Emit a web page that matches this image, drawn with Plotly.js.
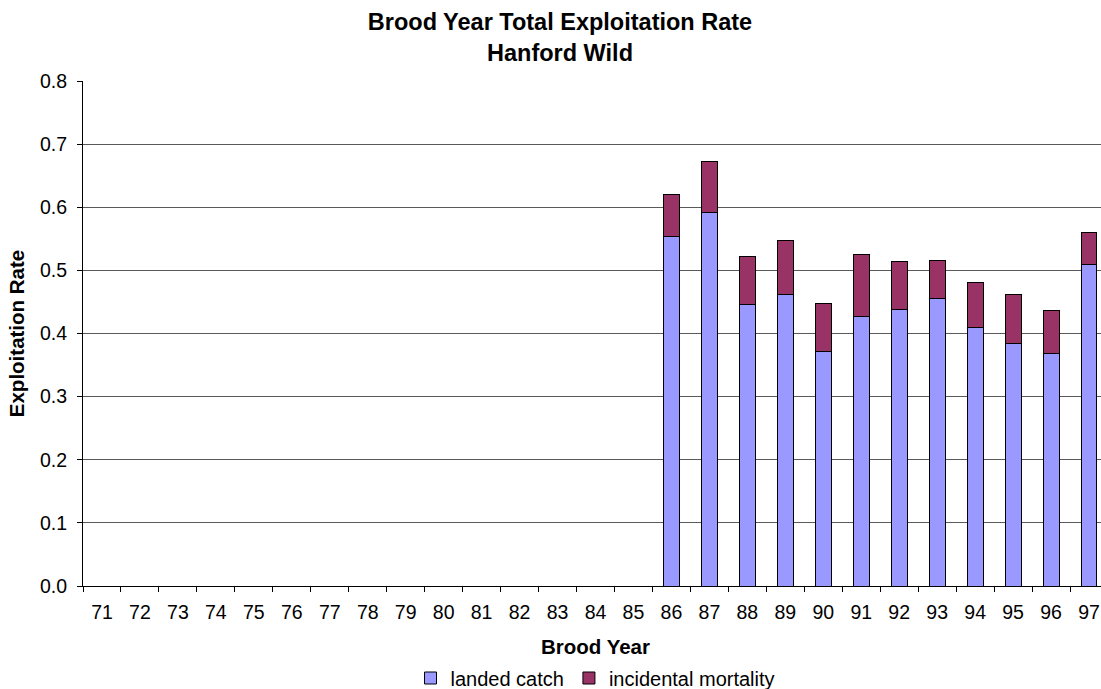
<!DOCTYPE html>
<html>
<head>
<meta charset="utf-8">
<script src="https://cdn.plot.ly/plotly-3.0.1.min.js"></script>
<style>html,body{margin:0;padding:0;overflow:hidden;background:#fff}</style>
</head>
<body>
<div id="chart"></div>
<script>
const broodYears = ["71","72","73","74","75","76","77","78","79","80","81","82","83","84","85","86","87","88","89","90","91","92","93","94","95","96","97"];
const landedCatch = [null,null,null,null,null,null,null,null,null,null,null,null,null,null,null,
  0.554,0.591,0.446,0.462,0.372,0.427,0.438,0.456,0.409,0.384,0.369,0.510];
const incidentalMortality = [null,null,null,null,null,null,null,null,null,null,null,null,null,null,null,
  0.066,0.081,0.076,0.085,0.076,0.098,0.076,0.060,0.072,0.077,0.067,0.050];

const FONT = "Liberation Sans, Arial, sans-serif";

const traces = [
  {type:'bar', name:'landed catch', x:broodYears, y:landedCatch,
   marker:{color:'#9999FF', line:{color:'#000', width:1}}},
  {type:'bar', name:'incidental mortality', x:broodYears, y:incidentalMortality,
   marker:{color:'#993366', line:{color:'#000', width:1}}}
];

const layout = {
  width:1108, height:689,
  margin:{l:83, r:0, t:80.5, b:103},
  paper_bgcolor:'#fff', plot_bgcolor:'#fff',
  font:{family:FONT, color:'#000', size:19},
  barmode:'stack', bargap:0.58,
  title:{text:'<b>Brood Year Total Exploitation Rate</b><br><b>Hanford Wild</b>',
    font:{family:FONT, size:23.5, color:'#000'},
    xref:'container', x:560/1108, xanchor:'center',
    yref:'container', y:1-30/689, yanchor:'middle'},
  xaxis:{type:'category', title:{text:'<b>Brood Year</b>', font:{size:20.5}, standoff:20},
    showgrid:false, showline:true, linecolor:'#000', linewidth:1,
    ticks:'outside', tickson:'boundaries', ticklen:5, tickcolor:'#000',
    tickfont:{size:19.5}, ticklabelstandoff:9},
  yaxis:{range:[0,0.8], dtick:0.1, tickformat:'.1f',
    title:{text:'<b>Exploitation Rate</b>', font:{size:20.5}, standoff:9},
    showgrid:true, gridcolor:'#5a5a5a', gridwidth:1,
    showline:true, linecolor:'#000', linewidth:1,
    ticks:'outside', ticklen:5, tickcolor:'#000', tickfont:{size:19.5}, zeroline:false,
    ticklabelstandoff:6},
  showlegend:true,
  legend:{orientation:'h', xref:'paper', x:0.5, xanchor:'center',
    yref:'container', y:(689-678)/689, yanchor:'middle',
    font:{size:20}, traceorder:'normal', itemwidth:30}
};

Plotly.newPlot('chart', traces, layout, {displayModeBar:false, staticPlot:true});
</script>
</body>
</html>
